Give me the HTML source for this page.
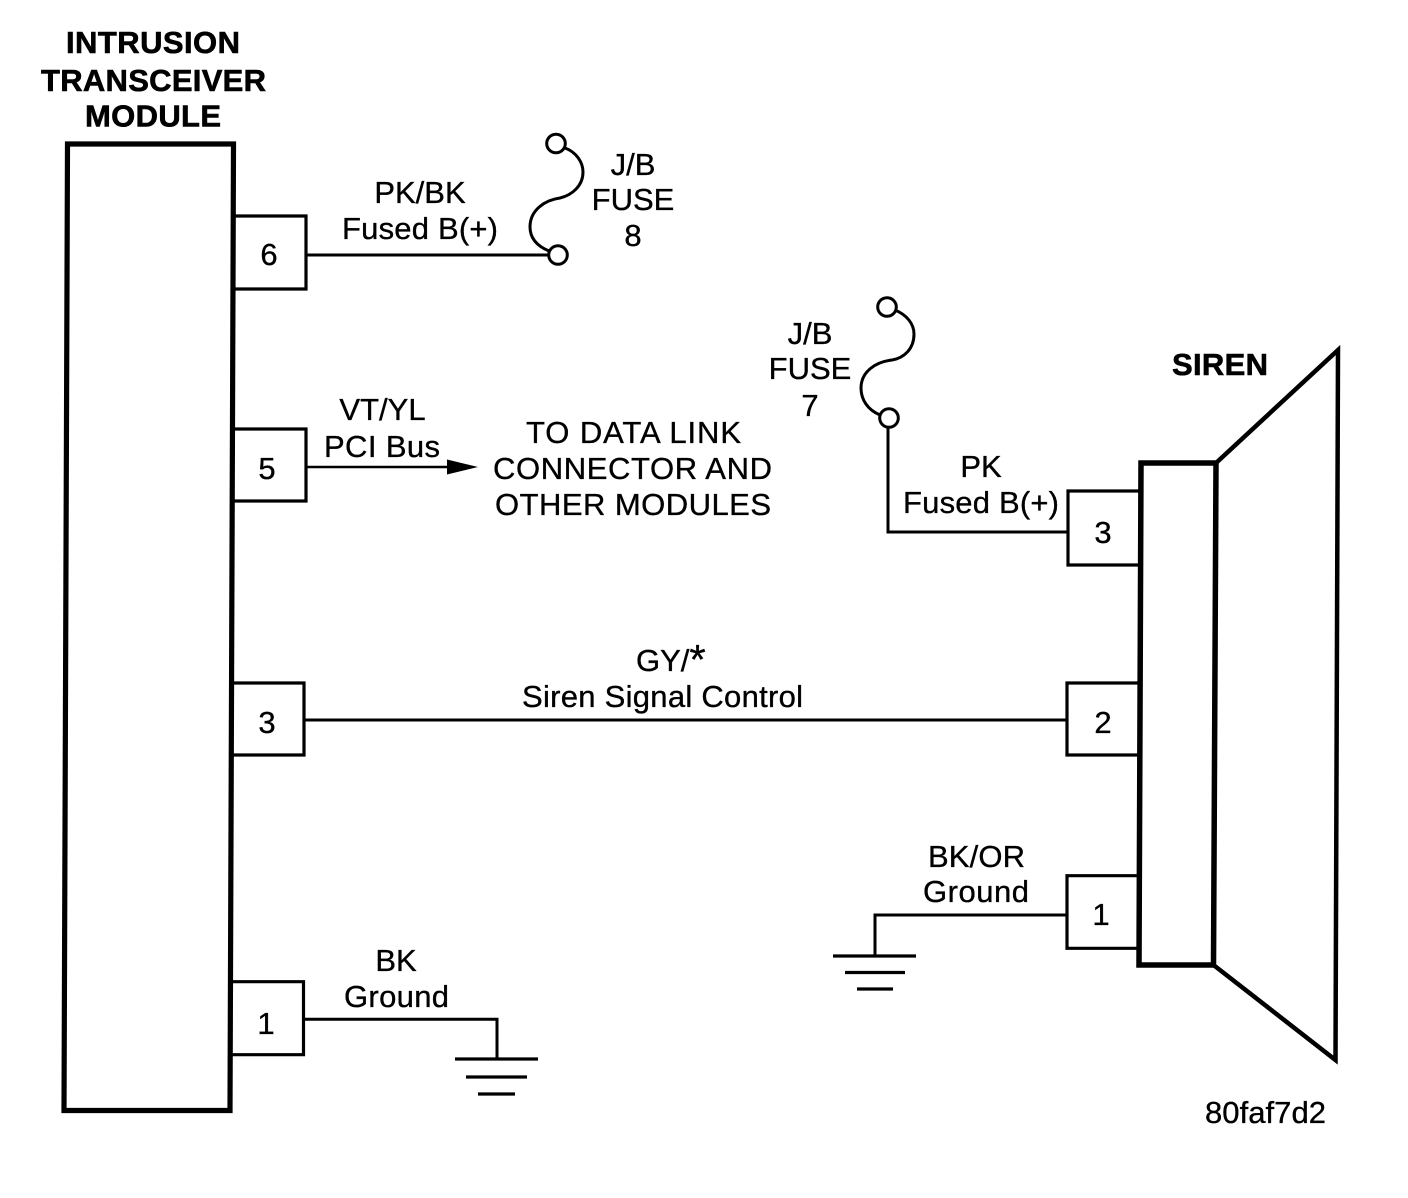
<!DOCTYPE html>
<html><head><meta charset="utf-8"><style>
html,body{margin:0;padding:0;background:#fff}
svg{display:block}
text{font-family:"Liberation Sans",Arial,sans-serif;font-size:31px;fill:#000;stroke:#000;stroke-width:.35px;text-anchor:middle}
.b{font-weight:bold;stroke-width:.6px}
</style></head><body>
<svg width="1408" height="1198" viewBox="0 0 1408 1198" xmlns="http://www.w3.org/2000/svg">
<g fill="none" stroke="#000">
<path d="M67.5 144 L233.5 144 L230 1110.5 L64 1110.5 Z" stroke-width="5.2"/>
<path d="M234 216 H306 V289 H234" stroke-width="3.2"/>
<path d="M234 429 H306 V501 H234" stroke-width="3.2"/>
<path d="M233 683 H304 V755 H233" stroke-width="3.2"/>
<path d="M232 981.7 H303.5 V1054.7 H232" stroke-width="3.2"/>
<path d="M306 255 H549" stroke-width="3"/>
<circle cx="556" cy="143.5" r="9.3" stroke-width="3" fill="#fff"/>
<circle cx="558" cy="255" r="9.3" stroke-width="3" fill="#fff"/>
<path d="M565 148 C576 152 583 162 583 172 C583 186 572 195 560 198 C545 200 530 210 530 227 C530 238 537 246 549 251" stroke-width="3"/>
<path d="M306 467 H450" stroke-width="2.4"/>
<path d="M304 720 H1067" stroke-width="3"/>
<path d="M304 1019.3 H497 V1059" stroke-width="3"/>
<path d="M455 1059 H538 M466 1077 H527 M478 1094 H515" stroke-width="3.3"/>
<circle cx="887" cy="307" r="9.3" stroke-width="3" fill="#fff"/>
<circle cx="889" cy="418" r="9.3" stroke-width="3" fill="#fff"/>
<path d="M895 310 C907 315 914 324 914 334 C914 349 904 358 892 360 C875 362 861 372 861 388 C861 400 868 410 880 415" stroke-width="3"/>
<path d="M888 427 V532 H1068" stroke-width="3"/>
<path d="M1140 491 H1068 V565 H1140" stroke-width="3.2"/>
<path d="M1140 683 H1067 V755 H1140" stroke-width="3.2"/>
<path d="M1138 875.7 H1067 V948.3 H1138" stroke-width="3.2"/>
<path d="M1067 915 H875 V955" stroke-width="3"/>
<path d="M833 956 H916 M845 972.5 H905 M857 989 H893" stroke-width="3.3"/>
<path d="M1141 463 H1216 L1213.5 965 H1139 Z" stroke-width="5.5"/>
<path d="M1216 463 L1338 350 L1335.5 1060 L1213.5 965" stroke-width="4.5"/>
</g>
<path d="M447 459.5 L478 467 L447 474.5 Z" fill="#000"/>
<text class="b" x="153" y="53" textLength="174">INTRUSION</text>
<text class="b" x="153.5" y="91" textLength="225">TRANSCEIVER</text>
<text class="b" x="153" y="126.500" textLength="136">MODULE</text>
<text class="b" x="1220" y="375" textLength="96">SIREN</text>
<text x="269" y="265">6</text><text x="267" y="479">5</text><text x="267" y="733">3</text><text x="266" y="1034">1</text>
<text x="1103" y="543">3</text><text x="1103" y="733">2</text><text x="1101" y="925">1</text>
<text x="420" y="203">PK/BK</text><text x="420" y="239" textLength="156">Fused B(+)</text>
<text x="633" y="175">J/B</text><text x="633" y="210">FUSE</text><text x="633" y="246">8</text>
<text x="382.5" y="420">VT/YL</text><text x="382" y="457" textLength="116">PCI Bus</text>
<text x="633.5" y="443" textLength="215">TO DATA LINK</text><text x="632.5" y="479" textLength="279">CONNECTOR AND</text><text x="633" y="515" textLength="276">OTHER MODULES</text>
<text x="810" y="344">J/B</text><text x="810" y="379">FUSE</text><text x="810" y="416">7</text>
<text x="981" y="477">PK</text><text x="981" y="513" textLength="156">Fused B(+)</text>
<text x="636" y="671" style="text-anchor:start">GY/<tspan font-size="42" dy="3">*</tspan></text><text x="662.5" y="707" textLength="281">Siren Signal Control</text>
<text x="976.5" y="867" textLength="97">BK/OR</text><text x="976" y="902" textLength="106">Ground</text>
<text x="396" y="971">BK</text><text x="396.5" y="1007" textLength="105">Ground</text>
<text x="1265.5" y="1123" textLength="121">80faf7d2</text>
</svg>
</body></html>
